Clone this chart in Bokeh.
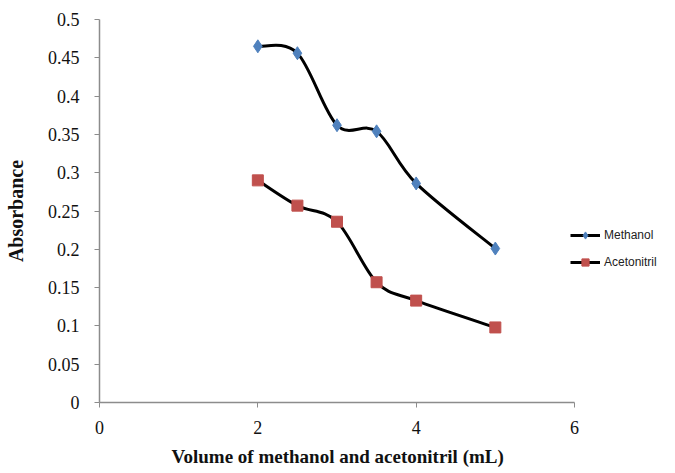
from bokeh.plotting import figure
from bokeh.models import ColumnDataSource, Legend, LegendItem, FixedTicker, Range1d, Title
from bokeh.embed import file_html
from bokeh.resources import INLINE

volume = [2, 2.5, 3, 3.5, 4, 5]
methanol = [0.465, 0.456, 0.362, 0.354, 0.286, 0.201]
acetonitril = [0.290, 0.257, 0.236, 0.157, 0.133, 0.098]
x_ticks = [0, 2, 4, 6]
y_ticks = [0, 0.05, 0.1, 0.15, 0.2, 0.25, 0.3, 0.35, 0.4, 0.45, 0.5]
x_title = "Volume of methanol and acetonitril (mL)"
y_title = "Absorbance"


def smooth_segments(xs, ys):
    n = len(xs)
    d = dict(x0=[], y0=[], x1=[], y1=[], cx0=[], cy0=[], cx1=[], cy1=[])
    for i in range(n - 1):
        ip = max(i - 1, 0)
        inn = min(i + 2, n - 1)
        d["x0"].append(xs[i]); d["y0"].append(ys[i])
        d["x1"].append(xs[i + 1]); d["y1"].append(ys[i + 1])
        d["cx0"].append(xs[i] + (xs[i + 1] - xs[ip]) / 6)
        d["cy0"].append(ys[i] + (ys[i + 1] - ys[ip]) / 6)
        d["cx1"].append(xs[i + 1] - (xs[inn] - xs[i]) / 6)
        d["cy1"].append(ys[i + 1] - (ys[inn] - ys[i]) / 6)
    return ColumnDataSource(d)


W, H = 675, 473
left, top, bottom = 99, 19, 71
axis_px = 475  # pixel length of the 0..6 axis
frame_w = W - left
x_end = 6 * frame_w / axis_px

p = figure(width=W, height=H, output_backend="svg", toolbar_location=None,
           x_range=Range1d(0, x_end), y_range=Range1d(0, 0.5),
           min_border_left=left, min_border_right=0, min_border_top=top,
           min_border_bottom=bottom)
p.outline_line_color = None
p.xgrid.visible = False
p.ygrid.visible = False
p.background_fill_color = "white"

blue = "#4F81BD"
red = "#C0504D"

curves = []
for ys in (methanol, acetonitril):
    curves.append(p.bezier(x0="x0", y0="y0", x1="x1", y1="y1", cx0="cx0", cy0="cy0",
                           cx1="cx1", cy1="cy1", source=smooth_segments(volume, ys),
                           line_color="black", line_width=3))

m_pts = p.scatter(volume, methanol, marker="diamond", size=13, color=blue)
a_pts = p.scatter(volume, acetonitril, marker="square", size=11, color=red)

legend = Legend(items=[LegendItem(label="Methanol", renderers=[curves[0], m_pts]),
                       LegendItem(label="Acetonitril", renderers=[curves[1], a_pts])],
                location=(471, 131), border_line_color=None,
                background_fill_alpha=0, glyph_width=30, glyph_height=18,
                label_standoff=4, spacing=9, padding=0, margin=0,
                label_text_font="Liberation Sans", label_text_font_size="12px",
                label_text_color="#222222")
p.add_layout(legend)

for ax in (p.xaxis[0], p.yaxis[0]):
    ax.axis_line_color = "#8c8c8c"
    ax.axis_line_width = 1.5
    ax.major_tick_line_color = "#8c8c8c"
    ax.major_tick_out = 5
    ax.major_tick_in = 0
    ax.minor_tick_line_color = None
    ax.major_label_text_font = "Liberation Serif"
    ax.major_label_text_font_size = "18px"
    ax.major_label_text_color = "#111111"
    ax.axis_label_text_font = "Liberation Serif"
    ax.axis_label_text_font_style = "bold"
    ax.axis_label_text_color = "#111111"

p.xaxis.bounds = (0, 6)
p.xaxis.ticker = FixedTicker(ticks=x_ticks)
p.yaxis.ticker = FixedTicker(ticks=y_ticks)
p.xaxis.major_label_standoff = 13
p.yaxis.major_label_standoff = 15
p.yaxis.axis_label = y_title
p.yaxis.axis_label_text_font_size = "20px"
p.yaxis.axis_label_standoff = 18

xt = Title(text=x_title, align="left", offset=72, standoff=14,
           text_font="Liberation Serif", text_font_style="bold",
           text_font_size="19px", text_color="#111111")
p.add_layout(xt, "below")

open("out.html", "w").write(file_html(p, INLINE))
